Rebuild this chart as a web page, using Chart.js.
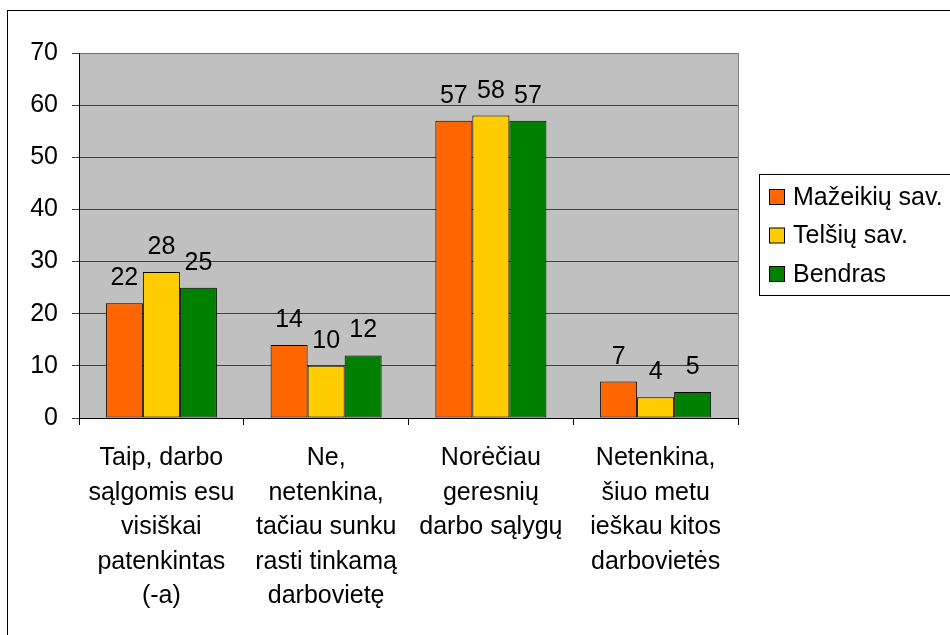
<!DOCTYPE html>
<html>
<head>
<meta charset="utf-8">
<script src="https://cdn.jsdelivr.net/npm/chart.js@4"></script>
<style>
  body { margin: 0; background: #fff; }
  #wrap { width: 950px; height: 635px; }
</style>
</head>
<body>
<div id="wrap"><canvas id="chart" width="950" height="635"></canvas></div>
<script>
// Chart data
const categories = [
    ['Taip, darbo', 'sąlgomis esu', 'visiškai', 'patenkintas', '(-a)'],
    ['Ne,', 'netenkina,', 'tačiau sunku', 'rasti tinkamą', 'darbovietę'],
    ['Norėčiau', 'geresnių', 'darbo sąlygų'],
    ['Netenkina,', 'šiuo metu', 'ieškau kitos', 'darbovietės']
];
const seriesNames = ['Mažeikių sav.', 'Telšių sav.', 'Bendras'];
const mazeikiai = [22, 14, 57, 7];
const telsiai = [28, 10, 58, 4];
const bendras = [25, 12, 57, 5];
const colors = ['#FF6600', '#FFCC00', '#008000'];

const FONT = "'Liberation Sans', Arial, sans-serif";

// Gray plot background and right border
const plotBg = {
    id: 'plotBg',
    beforeDraw(chart) {
        const { ctx, chartArea: a } = chart;
        ctx.save();
        ctx.fillStyle = '#C0C0C0';
        ctx.fillRect(a.left, a.top, a.right - a.left, a.bottom - a.top);
        ctx.strokeStyle = '#808080';
        ctx.lineWidth = 1;
        ctx.beginPath();
        ctx.moveTo(a.right + 0.5, a.top);
        ctx.lineTo(a.right + 0.5, a.bottom);
        ctx.stroke();
        // outer frame
        ctx.strokeStyle = '#000';
        ctx.strokeRect(7.5, 10.5, 1000, 1000);
        ctx.restore();
    }
};

// Value labels above bars
const valueLabels = {
    id: 'valueLabels',
    afterDatasetsDraw(chart) {
        const { ctx } = chart;
        ctx.save();
        ctx.font = '25px ' + FONT;
        ctx.fillStyle = '#000';
        ctx.textAlign = 'center';
        ctx.textBaseline = 'alphabetic';
        chart.data.datasets.forEach((ds, i) => {
            chart.getDatasetMeta(i).data.forEach((bar, j) => {
                ctx.fillText(ds.data[j], bar.x, bar.y - 18);
            });
        });
        ctx.restore();
    }
};

// Boxed legend on the right
const boxLegend = {
    id: 'boxLegend',
    afterDraw(chart) {
        const { ctx } = chart;
        ctx.save();
        ctx.strokeStyle = '#000';
        ctx.lineWidth = 1;
        ctx.strokeRect(759.5, 174.5, 300, 121);
        ctx.font = '25px ' + FONT;
        ctx.textBaseline = 'middle';
        ctx.textAlign = 'left';
        seriesNames.forEach((name, i) => {
            const y = 197 + i * 38.5;
            ctx.fillStyle = colors[i];
            ctx.fillRect(769.5, y - 7.5, 15, 15);
            ctx.strokeStyle = '#000';
            ctx.strokeRect(769.5, y - 7.5, 15, 15);
            ctx.fillStyle = '#000';
            ctx.fillText(name, 793, y + 1);
        });
        ctx.restore();
    }
};

const ctx = document.getElementById('chart').getContext('2d');
new Chart(ctx, {
    type: 'bar',
    data: {
        labels: categories,
        datasets: [
            { label: seriesNames[0], data: mazeikiai, backgroundColor: colors[0] },
            { label: seriesNames[1], data: telsiai, backgroundColor: colors[1] },
            { label: seriesNames[2], data: bendras, backgroundColor: colors[2] }
        ].map(ds => Object.assign(ds, {
            borderColor: '#000',
            borderWidth: 1,
            borderSkipped: false,
            categoryPercentage: 0.674,
            barPercentage: 1.0
        }))
    },
    options: {
        responsive: false,
        animation: false,
        layout: { padding: { left: 0, top: 53, right: 212, bottom: 0 } },
        plugins: {
            legend: { display: false },
            tooltip: { enabled: false }
        },
        scales: {
            x: {
                afterFit: s => { s.height = 217; },
                grid: {
                    drawOnChartArea: false,
                    drawTicks: true,
                    tickLength: 7,
                    tickColor: '#000'
                },
                border: { color: '#000', width: 1 },
                ticks: {
                    color: '#000',
                    padding: 16,
                    maxRotation: 0,
                    autoSkip: false,
                    font: { family: FONT, size: 25, lineHeight: 1.38 }
                }
            },
            y: {
                min: 0,
                max: 70,
                afterFit: s => { s.width = 79; },
                grid: {
                    color: ctx => ctx.tick && ctx.tick.value === 70 ? '#707070' : '#404040',
                    tickLength: 7,
                    tickColor: '#404040'
                },
                border: { color: '#000', width: 1 },
                ticks: {
                    stepSize: 10,
                    color: '#000',
                    padding: 14,
                    font: { family: FONT, size: 25 }
                }
            }
        }
    },
    plugins: [plotBg, valueLabels, boxLegend]
});
</script>
</body>
</html>
